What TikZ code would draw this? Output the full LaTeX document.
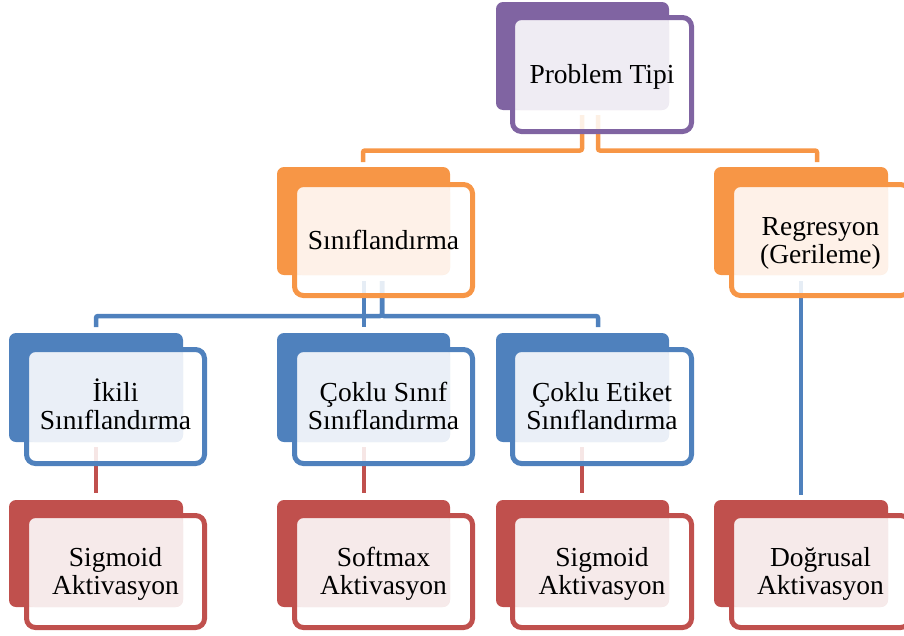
\documentclass[tikz,border=0pt]{standalone}
\usepackage{fontspec}
\setmainfont{Liberation Serif}
\definecolor{cPurple}{HTML}{8064A2}\definecolor{cPurpletint}{HTML}{EFECF3}
\definecolor{cOrange}{HTML}{F79646}\definecolor{cOrangetint}{HTML}{FEF1E8}
\definecolor{cBlue}{HTML}{4F81BD}\definecolor{cBluetint}{HTML}{EAEFF7}
\definecolor{cRed}{HTML}{C0504D}\definecolor{cRedtint}{HTML}{F6EAEA}

% column extents: back panel left/right, front frame left/right
\newcommand\setcol[5]{%
  \expandafter\def\csname bl#1\endcsname{#2}\expandafter\def\csname br#1\endcsname{#3}%
  \expandafter\def\csname fl#1\endcsname{#4}\expandafter\def\csname fr#1\endcsname{#5}}
% row extents: back panel top/bottom, front frame top/bottom
\newcommand\setrow[5]{%
  \expandafter\def\csname bt#1\endcsname{#2}\expandafter\def\csname bb#1\endcsname{#3}%
  \expandafter\def\csname ft#1\endcsname{#4}\expandafter\def\csname fb#1\endcsname{#5}}
\setcol{1}{9}{183}{24}{207}
\setcol{2}{277}{450}{292}{475}
\setcol{3}{496}{669}{510}{694}
\setcol{4}{714}{888}{729}{912}
\setrow{0}{2}{110}{15}{134}
\setrow{1}{167}{275}{182}{298}
\setrow{2}{333}{442}{347}{466}
\setrow{3}{500}{607}{513}{630}

% one two-layer box: solid back panel, framed front panel, tinted overlap
\newcommand\tierbox[3]{%
  \edef\bl{\csname bl#2\endcsname}\edef\br{\csname br#2\endcsname}%
  \edef\fl{\csname fl#2\endcsname}\edef\fr{\csname fr#2\endcsname}%
  \edef\bt{\csname bt#3\endcsname}\edef\bb{\csname bb#3\endcsname}%
  \edef\ft{\csname ft#3\endcsname}\edef\fb{\csname fb#3\endcsname}%
  \fill[#1, rounded corners=7pt] (\bl,\bt) rectangle (\br,\bb);
  \fill[white, opacity=.86, rounded corners=9pt] (\fl+2.5,\ft+2.5) rectangle (\fr-2.5,\fb-2.5);
  \fill[#1tint, rounded corners=8pt] (\fl+2.5,\ft+2.5) rectangle (\br,\bb);
  \draw[#1, line width=5pt, rounded corners=9pt] (\fl+2.5,\ft+2.5) rectangle (\fr-2.5,\fb-2.5);
}

\tikzset{
  conn/.style={line width=4.5pt, rounded corners=2pt},
  lbl/.style={anchor=base, inner sep=0pt, text=black,
    font=\fontsize{27.5}{28}\selectfont},
}
\newcommand\twolines[2]{\begin{tabular}[b]{@{}c@{}}#1\\#2\end{tabular}}

\begin{document}
\begin{tikzpicture}[x=1pt, y=-1pt]
\useasboundingbox (0,0) rectangle (904,635);
\clip (0,0) rectangle (904,635);

% connector end points
\coordinate (pt-a) at (582,115);  \coordinate (pt-b) at (598,115);
\coordinate (bus1) at (0,150.5);
\coordinate (sn-in) at (363,162); \coordinate (rg-in) at (817,162);
\coordinate (sn-a) at (364,281);  \coordinate (sn-b) at (382,281);
\coordinate (bus2) at (0,316);
\coordinate (ik-in) at (96,327);  \coordinate (cs-in) at (364,327);
\coordinate (ce-in) at (598,327);
\coordinate (rg-out) at (801,281); \coordinate (dg-in) at (801,495);
\coordinate (ik-out) at (96,447);  \coordinate (sg1-in) at (96,493);
\coordinate (cs-out) at (364,447); \coordinate (sm-in) at (364,493);
\coordinate (ce-out) at (582,447); \coordinate (sg2-in) at (582,493);

% connectors
\draw[conn, cOrange] (pt-a) |- (sn-in |- bus1) -- (sn-in);
\draw[conn, cOrange] (pt-b) |- (rg-in |- bus1) -- (rg-in);
\draw[conn, cBlue] (sn-a) -- (cs-in);
\draw[conn, cBlue] (sn-b) |- (ik-in |- bus2) -- (ik-in);
\draw[conn, cBlue] (sn-b) |- (ce-in |- bus2) -- (ce-in);
\draw[conn, cBlue] (rg-out) -- (dg-in);
\draw[conn, cRed] (ik-out) -- (sg1-in);
\draw[conn, cRed] (cs-out) -- (sm-in);
\draw[conn, cRed] (ce-out) -- (sg2-in);

% boxes
\tierbox{cPurple}{3}{0}
\tierbox{cOrange}{2}{1}
\tierbox{cOrange}{4}{1}
\tierbox{cBlue}{1}{2}
\tierbox{cBlue}{2}{2}
\tierbox{cBlue}{3}{2}
\tierbox{cRed}{1}{3}
\tierbox{cRed}{2}{3}
\tierbox{cRed}{3}{3}
\tierbox{cRed}{4}{3}

% labels
\node[lbl] (ptipi) at (602,83) {Problem Tipi};
\node[lbl] (snf) at (383.5,249) {Sınıflandırma};
\node[lbl] (reg) at (820.5,263) {\twolines{Regresyon}{(Gerileme)}};
\node[lbl] (ikili) at (115.5,429) {\twolines{İkili}{Sınıflandırma}};
\node[lbl] (coklus) at (383.5,429) {\twolines{Çoklu Sınıf}{Sınıflandırma}};
\node[lbl] (coklue) at (602,429) {\twolines{Çoklu Etiket}{Sınıflandırma}};
\node[lbl] (sig1) at (115.5,594) {\twolines{Sigmoid}{Aktivasyon}};
\node[lbl] (soft) at (383.5,594) {\twolines{Softmax}{Aktivasyon}};
\node[lbl] (sig2) at (602,594) {\twolines{Sigmoid}{Aktivasyon}};
\node[lbl] (dog) at (820.5,594) {\twolines{Doğrusal}{Aktivasyon}};
\end{tikzpicture}
\end{document}
